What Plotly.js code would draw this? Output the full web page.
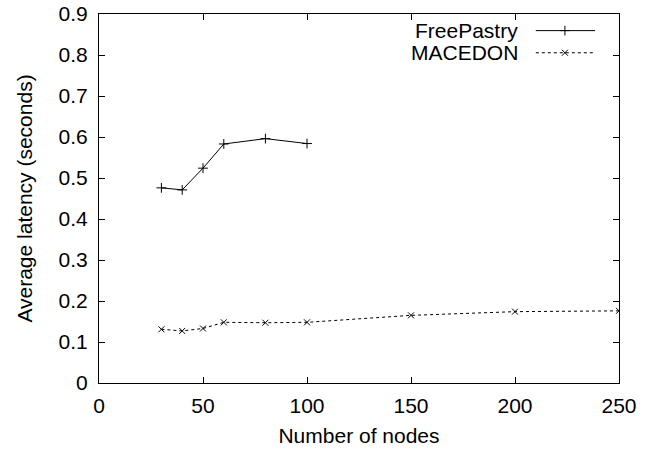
<!DOCTYPE html>
<html>
<head>
<meta charset="utf-8">
<script src="https://cdn.plot.ly/plotly-3.0.1.min.js"></script>
<style>html,body{margin:0;padding:0;background:#fff;}#chart{width:650px;height:451px;}</style>
</head>
<body>
<div id="chart"></div>
<script>
// Data
const nodesFreePastry = [30, 40, 50, 60, 80, 100];
const latencyFreePastry = [0.476, 0.471, 0.524, 0.583, 0.596, 0.584];
const nodesMacedon = [30, 40, 50, 60, 80, 100, 150, 200, 250];
const latencyMacedon = [0.131, 0.127, 0.133, 0.148, 0.147, 0.148, 0.165, 0.174, 0.176];
const seriesNames = ["FreePastry", "MACEDON"];
const xTicks = [0, 50, 100, 150, 200, 250];
const yTicks = [0, 0.1, 0.2, 0.3, 0.4, 0.5, 0.6, 0.7, 0.8, 0.9];

const FONT = "Liberation Sans, Arial, Helvetica, sans-serif";
const FS = 21;

// legend layout (in overlay-axis fraction units)
const legX0 = 0.840, legXm = 0.896, legX1 = 0.954;
const legY = [0.955, 0.895];
const legTextX = 0.81;

const plusMarker = {symbol: "cross-thin-open", size: 7, color: "#000", line: {color: "#000", width: 1}};
const xMarker = {symbol: "x-thin-open", size: 6, color: "#000", line: {color: "#000", width: 1}};

const traces = [
  {
    x: nodesFreePastry, y: latencyFreePastry, name: seriesNames[0],
    mode: "lines+markers", type: "scatter", showlegend: false,
    line: {color: "#000", width: 1}, marker: plusMarker
  },
  {
    x: nodesMacedon, y: latencyMacedon, name: seriesNames[1],
    mode: "lines+markers", type: "scatter", showlegend: false,
    line: {color: "#000", width: 1, dash: "dot"}, marker: xMarker
  },
  // legend samples
  {x: [legX0, legX1], y: [legY[0], legY[0]], xaxis: "x2", yaxis: "y2", mode: "lines", showlegend: false, hoverinfo: "skip",
   line: {color: "#000", width: 1}},
  {x: [legXm], y: [legY[0]], xaxis: "x2", yaxis: "y2", mode: "markers", showlegend: false, hoverinfo: "skip",
   marker: plusMarker},
  {x: [legX0, legX1], y: [legY[1], legY[1]], xaxis: "x2", yaxis: "y2", mode: "lines", showlegend: false, hoverinfo: "skip",
   line: {color: "#000", width: 1, dash: "dot"}},
  {x: [legXm], y: [legY[1]], xaxis: "x2", yaxis: "y2", mode: "markers", showlegend: false, hoverinfo: "skip",
   marker: xMarker}
];

const axisCommon = {
  showgrid: false, zeroline: false, showline: true, linecolor: "#000", linewidth: 1,
  mirror: "ticks", ticks: "inside", ticklen: 6, tickcolor: "#000", tickwidth: 1,
  tickfont: {family: FONT, size: FS, color: "#000"}
};

const layout = {
  width: 650, height: 451,
  margin: {l: 99, r: 31, t: 14, b: 68, pad: 0},
  paper_bgcolor: "#fff", plot_bgcolor: "#fff",
  font: {family: FONT, size: FS, color: "#000"},
  showlegend: false,
  xaxis: Object.assign({}, axisCommon, {
    range: [0, 250], tickvals: xTicks, ticktext: xTicks.map(String),
    ticklabelstandoff: 4,
    title: {text: "Number of nodes", font: {family: FONT, size: FS, color: "#000"}, standoff: 12}
  }),
  yaxis: Object.assign({}, axisCommon, {
    range: [0, 0.9], tickvals: yTicks, ticktext: yTicks.map(v => String(v)),
    ticklabelstandoff: 6,
    title: {text: "Average latency (seconds)", font: {family: FONT, size: FS, color: "#000"}, standoff: 20}
  }),
  xaxis2: {overlaying: "x", range: [0, 1], visible: false, fixedrange: true},
  yaxis2: {overlaying: "y", range: [0, 1], visible: false, fixedrange: true},
  annotations: [
    {xref: "x2", yref: "y2", x: legTextX, y: legY[0], text: seriesNames[0], showarrow: false,
     xanchor: "right", yanchor: "middle", font: {family: FONT, size: FS, color: "#000"}},
    {xref: "x2", yref: "y2", x: legTextX, y: legY[1], text: seriesNames[1], showarrow: false,
     xanchor: "right", yanchor: "middle", font: {family: FONT, size: FS, color: "#000"}}
  ]
};

Plotly.newPlot("chart", traces, layout, {displayModeBar: false, staticPlot: true});
</script>
</body>
</html>
